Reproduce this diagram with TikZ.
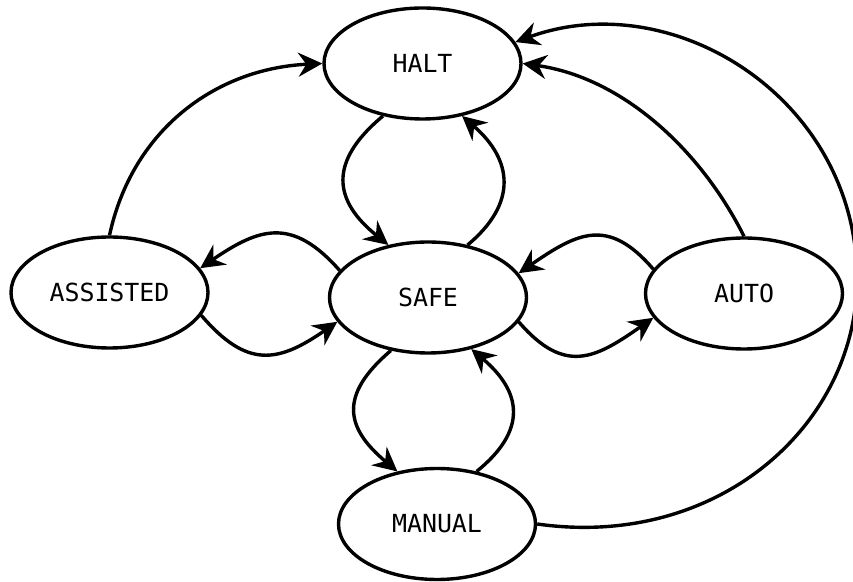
\documentclass[tikz,border=0pt]{standalone}
\usepackage{fontspec}
\setmonofont{DejaVu Sans Mono}
\usetikzlibrary{arrows.meta}
\usetikzlibrary{shapes}

\begin{document}
\begin{tikzpicture}[>={Stealth[length=24bp,width=24bp,inset=8bp]},line join=bevel,line width=3.4bp,
  mode/.style={ellipse,draw,minimum width=197bp,minimum height=111bp,inner sep=0pt,
    font=\ttfamily\fontsize{25}{30}\selectfont}]
%%
\useasboundingbox (0bp,0bp) rectangle (853bp,582bp);
\node (node_halt) at (422.5bp,518.5bp) [mode] {HALT};
  \node (node_assisted) at (109.5bp,289.5bp) [mode] {ASSISTED};
  \node (node_safe) at (428bp,284.5bp) [mode] {SAFE};
  \node (node_auto) at (744bp,288.5bp) [mode] {AUTO};
  \node (node_manual) at (437bp,58bp) [mode] {MANUAL};
  \coordinate (rim) at (857bp,303bp);
  \draw [black,->] (node_halt.233) ..controls (327.6bp,419.9bp) and (333.6bp,381.1bp)  .. (node_safe.127);
  \draw [black,->] (node_safe.53) ..controls (517.8bp,378.8bp) and (512.8bp,422.2bp)  .. (node_halt.307);
  \draw [black,->] (node_safe.235) ..controls (337.9bp,186.3bp) and (345.9bp,153.7bp)  .. (node_manual.127);
  \draw [black,->] (node_manual.53) ..controls (527.8bp,151.8bp) and (521.8bp,190.2bp)  .. (node_safe.310);
  \draw [black,->] (node_safe.163) ..controls (292bp,365.6bp) and (259.3bp,354.2bp)  .. (node_assisted.15);
  \draw [black,->] (node_assisted.346) ..controls (247bp,213.4bp) and (277.7bp,218.8bp)  .. (node_safe.195);
  \draw [black,->] (node_auto.165) ..controls (608bp,365.6bp) and (577.3bp,349.2bp)  .. (node_safe.15);
  \draw [black,->] (node_safe.345) ..controls (565bp,206.4bp) and (595.7bp,223.8bp)  .. (node_auto.195);
  \draw [black,->] (node_assisted.north) ..controls (132.2bp,451.7bp) and (215.1bp,513.4bp)  .. (node_halt.west);
  \draw [black,->] (node_auto.north) ..controls (699.6bp,434.1bp) and (621bp,504.6bp)  .. (node_halt.east);
  \draw [black,->] (node_manual.east) ..controls (718.7bp,32.3bp) and (857bp,158bp)  .. (rim)
    ..controls (857bp,483bp) and (673.3bp,597.6bp)  .. (node_halt.13);
%
\end{tikzpicture}
\end{document}
